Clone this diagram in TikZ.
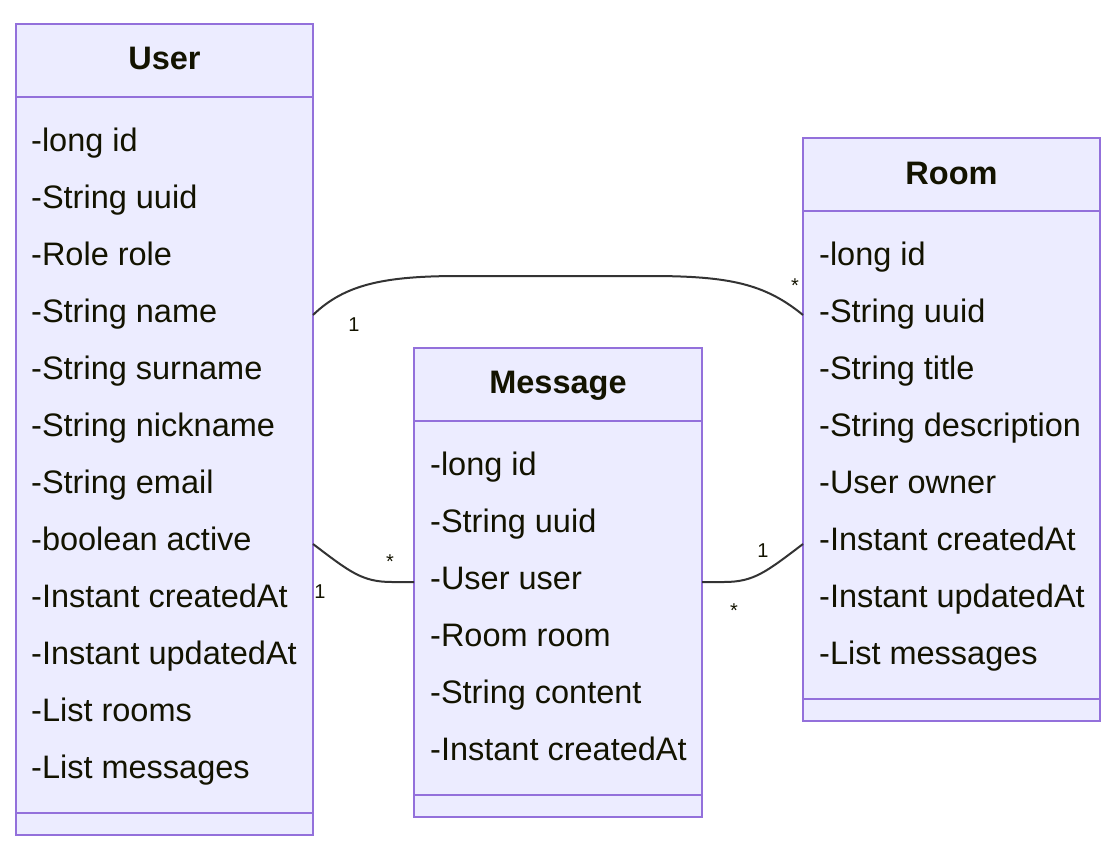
\documentclass[tikz,border=0pt]{standalone}
\usepackage{fontspec}
\setmainfont{Liberation Sans}
\usetikzlibrary{calc}
\definecolor{boxfill}{HTML}{ECECFF}
\definecolor{boxline}{HTML}{9370DB}
\definecolor{txt}{HTML}{131300}
\definecolor{edge}{HTML}{333333}
\tikzset{
  classbox/.style={draw=boxline, fill=boxfill, line width=2pt, anchor=north west, inner sep=0pt, outer sep=0pt},
  divider/.style={draw=boxline, line width=2pt},
  attr/.style={anchor=base west, inner sep=0pt, text=txt, font=\fontsize{32.5}{39}\selectfont},
  ttl/.style={anchor=base, inner sep=0pt, text=txt, font=\fontsize{32.5}{39}\selectfont\bfseries},
  mult/.style={anchor=base, inner sep=0pt, text=txt, font=\fontsize{20}{24}\selectfont},
  rel/.style={draw=edge, line width=2pt}
}
\begin{document}
\begin{tikzpicture}[x=1pt,y=-1pt]
\useasboundingbox (0,0) rectangle (1116,859);
% User
\node[classbox, minimum width=297pt, minimum height=811pt] (user) at (16,24) {};
\draw[divider] (16,97) -- (313,97);
\draw[divider] (16,813) -- (313,813);
\node[ttl] (usert) at (164.5,70) {User};
\foreach \t [count=\i from 0] in {-long id,-String uuid,-Role role,-String name,-String surname,-String nickname,-String email,-boolean active,-Instant createdAt,-Instant updatedAt,-List rooms,-List messages}
  \node[attr] (ua\i) at (31,151+57*\i) {\t};
% Room
\node[classbox, minimum width=297pt, minimum height=583pt] (room) at (803,138) {};
\draw[divider] (803,211) -- (1100,211);
\draw[divider] (803,699) -- (1100,699);
\node[ttl] (roomt) at (951.5,184) {Room};
\foreach \t [count=\i from 0] in {-long id,-String uuid,-String title,-String description,-User owner,-Instant createdAt,-Instant updatedAt,-List messages}
  \node[attr] (ra\i) at (819,265+57*\i) {\t};
% Message
\node[classbox, minimum width=288pt, minimum height=469pt] (msg) at (414,348) {};
\draw[divider] (414,421) -- (702,421);
\draw[divider] (414,795) -- (702,795);
\node[ttl] (msgt) at (558,393) {Message};
\foreach \t [count=\i from 0] in {-long id,-String uuid,-User user,-Room room,-String content,-Instant createdAt}
  \node[attr] (ma\i) at (430,475+57*\i) {\t};
% connection points
\coordinate (ur1) at ($(user.north east)+(0,291)$);
\coordinate (ru1) at ($(room.north west)+(0,177)$);
\coordinate (um1) at ($(user.north east)+(0,520)$);
\coordinate (mu1) at ($(msg.north west)+(0,234)$);
\coordinate (mr1) at ($(msg.north east)+(0,234)$);
\coordinate (rm1) at ($(room.north west)+(0,406)$);
% edges
\draw[rel] (ur1) .. controls (345,284) and (385,276) .. (460,276) -- (650,276) .. controls (730,276) and (765,284) .. (ru1);
\draw[rel] (um1) .. controls (350,572) and (362,582) .. (392,582) -- (mu1);
\draw[rel] (mr1) -- (724,582) .. controls (754,582) and (766,572) .. (rm1);
% multiplicities
\node[mult] (l1) at (354,331) {1};
\node[mult] (l2) at (795,292) {*};
\node[mult] (l3) at (390,568) {*};
\node[mult] (l4) at (320,598) {1};
\node[mult] (l5) at (763,557) {1};
\node[mult] (l6) at (734,617) {*};
\end{tikzpicture}
\end{document}
